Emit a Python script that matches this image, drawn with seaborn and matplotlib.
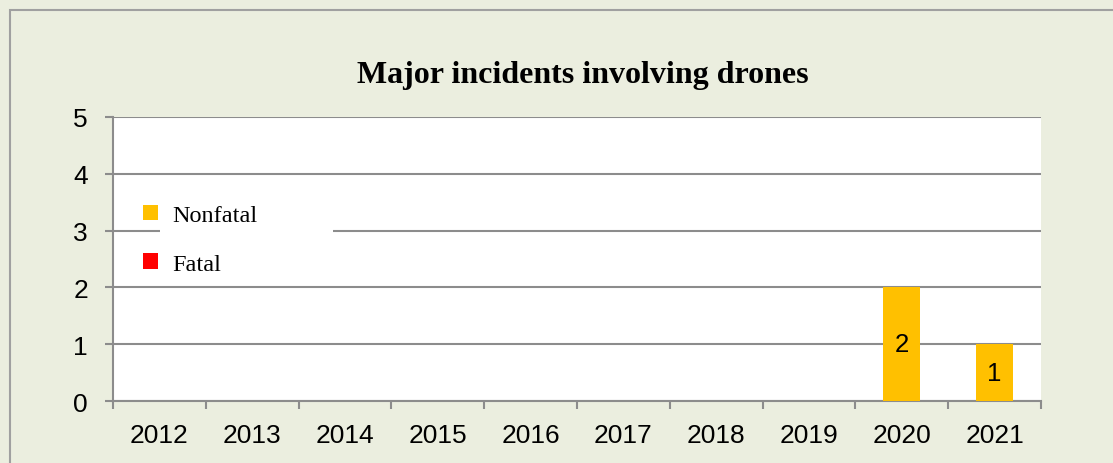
import matplotlib
matplotlib.use("Agg")
import matplotlib.pyplot as plt
import seaborn as sns
import numpy as np
import pandas as pd
from matplotlib.patches import Rectangle
from matplotlib.ticker import FixedLocator

years = ["2012", "2013", "2014", "2015", "2016", "2017", "2018", "2019", "2020", "2021"]
nonfatal = [0, 0, 0, 0, 0, 0, 0, 0, 2, 1]
fatal = [0, 0, 0, 0, 0, 0, 0, 0, 0, 0]
yticks = [0, 1, 2, 3, 4, 5]
title = "Major incidents involving drones"

sns.set_theme(style="white")
plt.rcParams['font.family'] = ['Liberation Sans', 'DejaVu Sans']
plt.rcParams['text.color'] = 'black'
plt.rcParams['xtick.color'] = 'black'
plt.rcParams['ytick.color'] = 'black'

BG = "#EBEEDF"
GRID = "#8C8C8C"
C_NF = "#FFC000"
C_F = "#FF0000"

fig = plt.figure(figsize=(11.13, 4.64), dpi=100, facecolor=BG)
fig.patches.append(Rectangle((10 / 1113, -0.1), 1.2, 1 - 11 / 464 + 0.1, transform=fig.transFigure,
                             facecolor=BG, edgecolor="#A0A0A0", linewidth=1.5, zorder=-5))
ax = fig.add_axes([113 / 1113, 1 - 402 / 464, (1041 - 113) / 1113, (402 - 118) / 464])
ax.set_facecolor("white")

df = pd.DataFrame({"year": years, "Nonfatal": nonfatal, "Fatal": fatal})
sns.barplot(data=df, x="year", y="Nonfatal", color=C_NF, width=0.4, ax=ax,
            saturation=1, label="Nonfatal", zorder=3, linewidth=0)
ax.bar(np.arange(len(years)), fatal, bottom=nonfatal, width=0.4, color=C_F,
       label="Fatal", zorder=3, linewidth=0)

for i, v in enumerate(nonfatal):
    if v > 0:
        ax.text(i, v / 2, str(v), ha="center", va="center", fontsize=18.5, color="black", zorder=5)

ax.set_ylim(0, 5)
ax.set_xlim(-0.5, len(years) - 0.5)
ax.set_yticks(yticks)
ax.set_yticklabels([str(t) for t in yticks], fontsize=19)
ax.set_xticks(range(len(years)))
ax.set_xticklabels(years, fontsize=19)
ax.xaxis.set_minor_locator(FixedLocator(np.arange(-0.5, len(years), 1.0)))
ax.tick_params(axis="x", which="major", length=0, pad=16)
ax.tick_params(axis="x", which="minor", length=6, width=1.5, color=GRID, direction="out", bottom=True)
ax.tick_params(axis="y", which="major", length=6, width=1.5, color=GRID, direction="out", left=True, pad=12)
ax.set_xlabel("")
ax.set_ylabel("")

ax.grid(axis="y", color=GRID, linewidth=1.5, zorder=1)
ax.set_axisbelow(True)
for s in ["top", "right"]:
    ax.spines[s].set_visible(False)
for s in ["left", "bottom"]:
    ax.spines[s].set_color(GRID)
    ax.spines[s].set_linewidth(1.5)

# white legend backdrop
ax.add_patch(Rectangle((0.0506, 0.43), 0.186, 0.31, transform=ax.transAxes,
                       facecolor="white", edgecolor="none", zorder=2))
handles, labels = ax.get_legend_handles_labels()
leg = ax.legend(handles, labels, loc="upper left", bbox_to_anchor=(0.022, 0.725),
                frameon=False, handlelength=0.6, handleheight=0.6, handletextpad=0.6,
                labelspacing=1.12, borderaxespad=0,
                prop={"family": "Liberation Serif", "size": 17.5})
leg.set_zorder(6)

fig.text(583 / 1113, 1 - 76 / 464, title, ha="center", va="center", color="black",
         fontsize=23, fontweight="bold", family="Liberation Serif")

fig.savefig("out.png", dpi=100, facecolor=BG)
